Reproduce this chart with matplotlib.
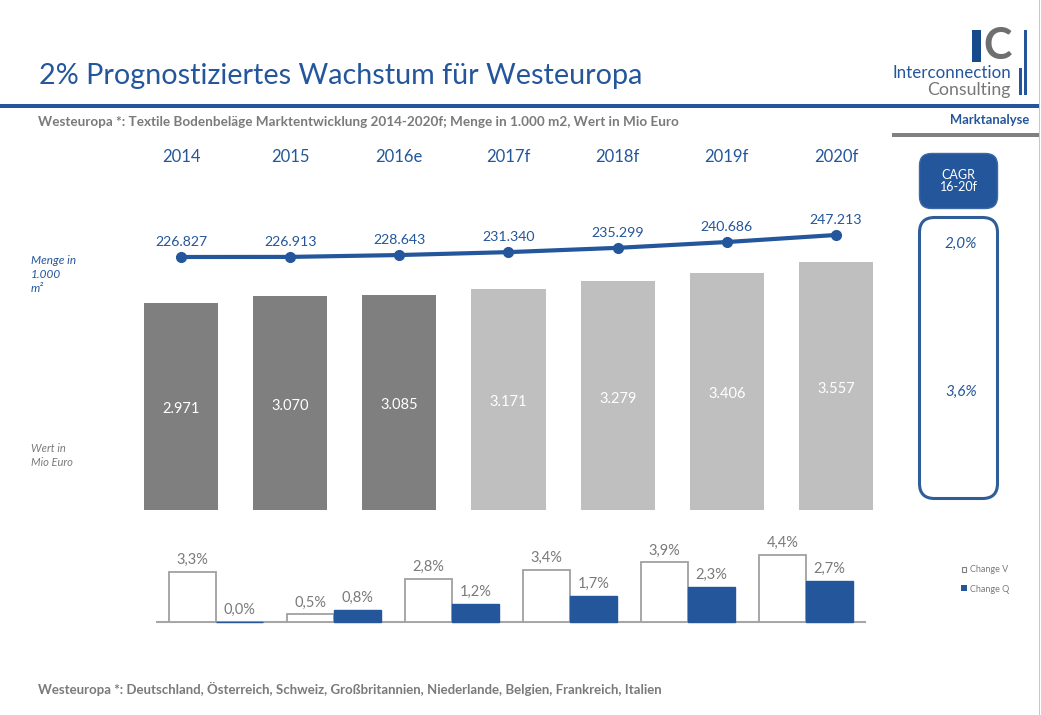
import matplotlib
matplotlib.use('Agg')
import matplotlib.pyplot as plt
from matplotlib.patches import FancyBboxPatch, Rectangle

plt.rcParams['font.family'] = ['Lato', 'DejaVu Sans']

W, H = 1041, 715
BLUE = '#24569b'
GREY = '#7f7f7f'
LIGHT = '#bfbfbf'
TEXT = '#7a7a7a'

# data
years = ['2014', '2015', '2016e', '2017f', '2018f', '2019f', '2020f']
menge = [226827, 226913, 228643, 231340, 235299, 240686, 247213]
menge_labels = ['226.827', '226.913', '228.643', '231.340', '235.299', '240.686', '247.213']
wert = [2971, 3070, 3085, 3171, 3279, 3406, 3557]
wert_labels = ['2.971', '3.070', '3.085', '3.171', '3.279', '3.406', '3.557']
wert_colors = [GREY, GREY, GREY, LIGHT, LIGHT, LIGHT, LIGHT]
change_v = [3.3, 0.5, 2.8, 3.4, 3.9, 4.4]
change_q = [0.0, 0.8, 1.2, 1.7, 2.3, 2.7]
change_v_labels = ['3,3%', '0,5%', '2,8%', '3,4%', '3,9%', '4,4%']
change_q_labels = ['0,0%', '0,8%', '1,2%', '1,7%', '2,3%', '2,7%']
cagr_labels = ['2,0%', '3,6%']


def px_axes(x0, y0, x1, y1):
    # axes placed with pixel coordinates, y measured from the top
    ax = fig.add_axes([x0 / W, 1 - y1 / H, (x1 - x0) / W, (y1 - y0) / H])
    ax.axis('off')
    ax.patch.set_alpha(0)
    return ax


fig = plt.figure(figsize=(W / 100, H / 100), dpi=100, facecolor='white')

# page layer in pixels for header, logo and side notes
page = px_axes(0, 0, W, H)
page.set_xlim(0, W)
page.set_ylim(H, 0)

page.text(39, 76, '2% Prognostiziertes Wachstum für Westeuropa', color=BLUE, fontsize=20.7,
          va='center', ha='left')
page.add_patch(Rectangle((0, 104), 1039, 4, color=BLUE, lw=0))
page.add_patch(Rectangle((892, 133), 147, 4, color='#808080', lw=0))
page.add_patch(Rectangle((1039, 0), 1.2, H, color='#c8c8c8', lw=0))
page.text(38, 122, 'Westeuropa *: Textile Bodenbeläge Marktentwicklung 2014-2020f; Menge in 1.000 m2, Wert in Mio Euro',
          color=TEXT, fontsize=9.7, fontweight='bold', va='center')
page.text(38, 689, 'Westeuropa *: Deutschland, Österreich, Schweiz, Großbritannien, Niederlande, Belgien, Frankreich, Italien',
          color=TEXT, fontsize=9.55, fontweight='bold', va='center')
page.text(1029, 120, 'Marktanalyse', color=BLUE, fontsize=9.4, fontweight='bold', va='center', ha='right')

# logo
page.add_patch(Rectangle((972, 30), 9, 32, color='#174a8c', lw=0))
page.text(998, 46, 'C', color='#6f6f6f', fontsize=31, fontweight='bold', va='center', ha='center')
page.add_patch(Rectangle((1023.5, 30), 3, 65, color=BLUE, lw=0))
page.add_patch(Rectangle((1018.5, 68), 3.5, 27, color=BLUE, lw=0))
page.text(1011, 73, 'Interconnection', color=BLUE, fontsize=12.2, va='center', ha='right')
page.text(1011, 90, 'Consulting', color='#777777', fontsize=12.8, va='center', ha='right')

# side notes
page.text(31, 260, 'Menge in', color=BLUE, fontsize=8.5, style='italic', va='center')
page.text(31, 274, '1.000', color=BLUE, fontsize=8.5, style='italic', va='center')
page.text(31, 288, 'm²', color=BLUE, fontsize=8.5, style='italic', va='center')
page.text(31, 449, 'Wert in', color=TEXT, fontsize=8, style='italic', va='center')
page.text(31, 463, 'Mio Euro', color=TEXT, fontsize=8, style='italic', va='center')

# CAGR boxes
page.add_patch(FancyBboxPatch((919.5, 153.5), 78, 55, boxstyle='round,pad=0,rounding_size=12', fc=BLUE, ec='#3c6aa6', lw=1))
page.add_patch(FancyBboxPatch((919.5, 217.5), 78, 281, boxstyle='round,pad=0,rounding_size=15', fc='white', ec='#2f5d97', lw=2.2))
page.text(958.5, 181, 'CAGR\n16-20f', color='white', fontsize=9, ha='center', va='center', linespacing=1.0)
page.text(961, 244, cagr_labels[0], color=BLUE, fontsize=11, style='italic', ha='center', va='center')
page.text(961, 392, cagr_labels[1], color=BLUE, fontsize=11, style='italic', ha='center', va='center')

# legend
page.add_patch(Rectangle((961.5, 566.5), 4, 5, fc='white', ec=GREY, lw=0.8))
page.add_patch(Rectangle((961, 585), 5.5, 5.5, color=BLUE, lw=0))
page.text(970, 570, 'Change V', color=TEXT, fontsize=6.5, va='center')
page.text(970, 589, 'Change Q', color=TEXT, fontsize=6.5, va='center')

# year headers and line
x_pos = list(range(len(years)))
line_ax = px_axes(126.5, 140, 890.5, 260)
line_ax.set_xlim(-0.5, 6.5)
line_ax.set_ylim(226827 - 3 / 0.00108, 226827 + 117 / 0.00108)
line_ax.plot(x_pos, menge, color=BLUE, lw=3, marker='o', ms=7, clip_on=False)
for i, lab in enumerate(menge_labels):
    line_ax.annotate(lab, (i, menge[i]), xytext=(0, 11), textcoords='offset points', ha='center', va='center',
                     color=BLUE, fontsize=10.2)
for i, year in enumerate(years):
    line_ax.annotate(year, (i, 1), xycoords=('data', 'axes fraction'), xytext=(0, -12), textcoords='offset points',
                     ha='center', va='center', color=BLUE, fontsize=12)

# value bars
bar_ax = px_axes(126.5, 250, 890.5, 510)
bar_ax.set_xlim(-0.5, 6.5)
bar_ax.set_ylim(0, 260 / 0.0697)
bar_ax.bar(x_pos, wert, width=74 / 109, color=wert_colors)
for i, lab in enumerate(wert_labels):
    bar_ax.annotate(lab, (i, wert[i] / 2), xytext=(0, -2), textcoords='offset points', color='white',
                    fontsize=10.5, ha='center', va='center')

# change bars
chg_ax = px_axes(157, 540, 865, 622)
chg_ax.set_xlim(0, 6)
chg_ax.set_ylim(0, 82 / 15.3)
chg_ax.plot([0, 6], [0, 0], color='#a6a6a6', lw=1.5, clip_on=False, zorder=1)
for i in range(6):
    chg_ax.bar(i + 0.3, change_v[i], width=0.4, fc='white', ec='#a0a0a0', lw=1.3, zorder=2)
    chg_ax.bar(i + 0.7, change_q[i], width=0.4, fc=BLUE, ec=BLUE, lw=1, zorder=2, clip_on=False)
    chg_ax.annotate(change_v_labels[i], (i + 0.3, change_v[i]), xytext=(0, 8.5), textcoords='offset points',
                    ha='center', va='center', color=TEXT, fontsize=10.5)
    chg_ax.annotate(change_q_labels[i], (i + 0.7, change_q[i]), xytext=(0, 8.5), textcoords='offset points',
                    ha='center', va='center', color=TEXT, fontsize=10.5)

fig.savefig('out.png', dpi=100)
